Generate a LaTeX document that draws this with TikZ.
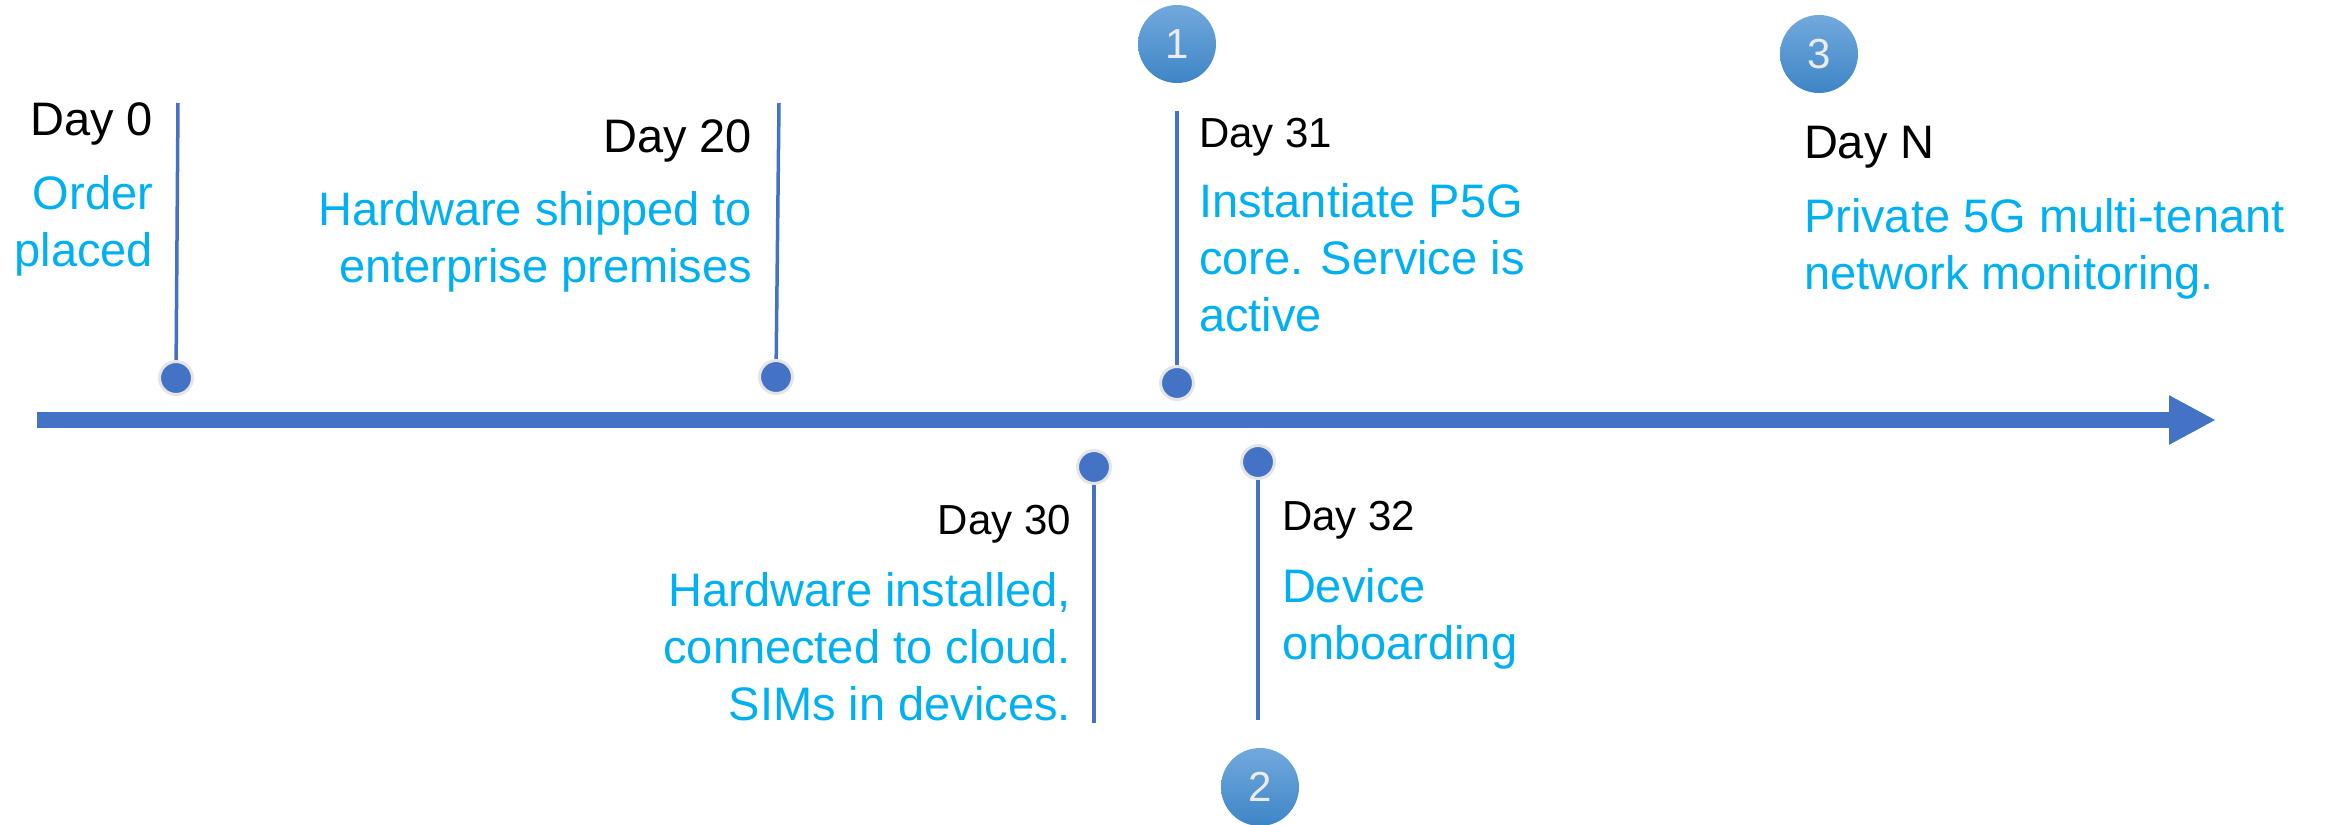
\documentclass[tikz,border=0pt]{standalone}
\usepackage{fontspec}
\setmainfont{Liberation Sans}
\usepackage{tikz}
\usetikzlibrary{arrows.meta}
\definecolor{tlblue}{HTML}{4472C4}
\definecolor{tlcyan}{HTML}{00B0F0}
\definecolor{numtop}{HTML}{72A9DD}
\definecolor{numbot}{HTML}{3E85C6}
\tikzset{
  tl_node/.style = {inner sep=0pt, outer sep=0pt},
  tl_dot/.style = {tl_node, circle, fill=tlblue, draw=black!10,
    line width=1.5pt, minimum size=16.5pt},% point on the time line
  tl_num/.style = {tl_node, circle, top color=numtop, bottom color=numbot,
    text=white!92!black, font=\fontsize{21}{21}\selectfont,
    minimum size=39pt},% numbered step
  tl_day/.style = {tl_node, black, font=\fontsize{21}{25}\selectfont},
  tl_day_l/.style = {tl_day, font=\fontsize{23.5}{28}\selectfont},% larger day label
  tl_txt/.style = {tl_node, tlcyan, font=\fontsize{23.5}{28.5}\selectfont},
  tl_stem/.style = {tlblue, line width=1.75pt}
}
\begin{document}
\begin{tikzpicture}[x=0.5pt, y=-0.5pt]
\useasboundingbox (0,0) rectangle (2336,825);
% time axis
\coordinate (ax_start) at (37,420);
\coordinate (ax_end) at (2216,420);
\draw [tlblue, line width=8pt, -{Triangle[length=23.5pt, width=23pt]}]
  (ax_start) -- (ax_end);
% stem ends
\coordinate (top_0) at (178,103);
\coordinate (top_20) at (779,103);
\coordinate (top_31) at (1177,111);
\coordinate (bot_30) at (1094,723);
\coordinate (bot_32) at (1258,720);
% stems
\draw [tl_stem] (176,378) coordinate (pt_0) -- (top_0);
\draw [tl_stem] (776,377) coordinate (pt_20) -- (top_20);
\draw [tl_stem] (1177,383) coordinate (pt_31) -- (top_31);
\draw [tl_stem] (1094,467) coordinate (pt_30) -- (bot_30);
\draw [tl_stem] (1258,462) coordinate (pt_32) -- (bot_32);
% dots
\node [tl_dot] (dot_0) at (pt_0) {};
\node [tl_dot] (dot_20) at (pt_20) {};
\node [tl_dot] (dot_31) at (pt_31) {};
\node [tl_dot] (dot_30) at (pt_30) {};
\node [tl_dot] (dot_32) at (pt_32) {};
% numbered steps
\node [tl_num] (num_1) at (1177,44) {1};
\node [tl_num] (num_2) at (1260,787) {2};
\node [tl_num] (num_3) at (1819,54) {3};
% labels
\node [tl_day_l, anchor=base east] (day_0) at (153,135) {Day 0};
\node [tl_txt, anchor=north east, align=right] (txt_0) at (153,175)
  {Order\\placed};
\node [tl_day_l, anchor=base east] (day_20) at (752,152) {Day 20};
\node [tl_txt, anchor=north east, align=right] (txt_20) at (752,191)
  {Hardware shipped to\\enterprise premises};
\node [tl_day, anchor=base west] (day_31) at (1199,147) {Day 31};
\node [tl_txt, anchor=north west, align=left] (txt_31) at (1199,183)
  {Instantiate P5G\\core. Service is\\active};
\node [tl_day_l, anchor=base west] (day_n) at (1804,158) {Day N};
\node [tl_txt, anchor=north west, align=left] (txt_n) at (1804,198)
  {Private 5G multi-tenant\\network monitoring.};
\node [tl_day, anchor=base east] (day_30) at (1071,534) {Day 30};
\node [tl_txt, anchor=north east, align=right] (txt_30) at (1071,572)
  {Hardware installed,\\connected to cloud.\\SIMs in devices.};
\node [tl_day, anchor=base west] (day_32) at (1282,530) {Day 32};
\node [tl_txt, anchor=north west, align=left] (txt_32) at (1282,568)
  {Device\\onboarding};
\end{tikzpicture}
\end{document}
